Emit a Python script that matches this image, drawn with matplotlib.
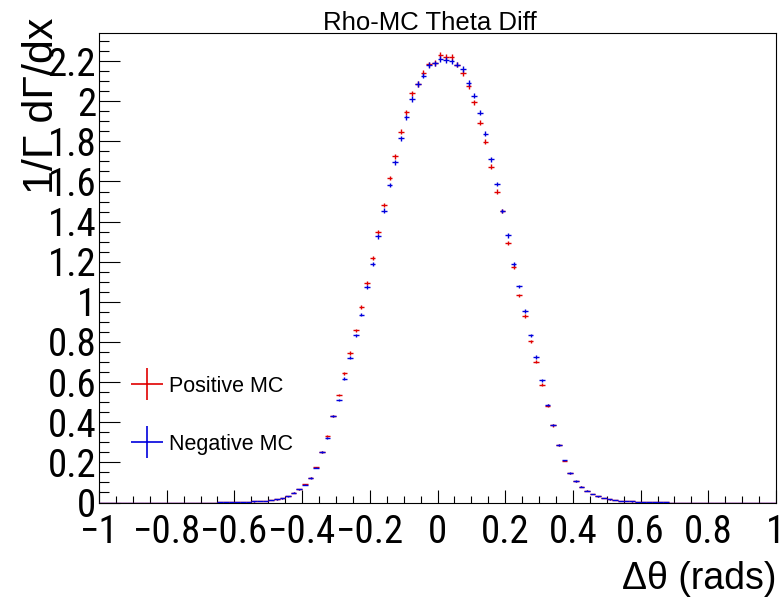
import numpy as np
import matplotlib
matplotlib.use("Agg")
import matplotlib.pyplot as plt
from matplotlib import font_manager as fm
from matplotlib.lines import Line2D
from matplotlib.textpath import TextPath
from matplotlib.ticker import MultipleLocator, FuncFormatter, FixedLocator

# ---------------- data ----------------
x_min, x_max, n_bins = -1.0, 1.0, 120

pos_mc = [0.0] * 21 + [
    0.001, 0.001, 0.002, 0.002, 0.003,                      # 21-25
    0.004, 0.005, 0.006, 0.009, 0.012,                      # 26-30
    0.016, 0.021, 0.032, 0.049, 0.066,                      # 31-35
    0.090, 0.123, 0.175, 0.253, 0.332,                      # 36-40
    0.432, 0.535, 0.643, 0.745, 0.858,                      # 41-45
    0.974, 1.094, 1.220, 1.347, 1.482,                      # 46-50
    1.618, 1.725, 1.848, 1.944, 2.039,                      # 51-55
    2.086, 2.143, 2.184, 2.190, 2.231,                      # 56-60
    2.221, 2.221, 2.182, 2.140, 2.074,                      # 61-65
    1.994, 1.893, 1.799, 1.674, 1.550,                      # 66-70
    1.452, 1.293, 1.173, 1.032, 0.929,                      # 71-75
    0.803, 0.701, 0.588, 0.483, 0.384,                      # 76-80
    0.287, 0.209, 0.146, 0.106, 0.078,                      # 81-85
    0.058, 0.042, 0.031, 0.022, 0.016,                      # 86-90
    0.011, 0.008, 0.006, 0.005, 0.004,                      # 91-95
    0.003, 0.002, 0.002, 0.001, 0.001,                      # 96-100
] + [0.0] * 19

neg_mc = [0.0] * 21 + [
    0.001, 0.001, 0.002, 0.002, 0.003,
    0.004, 0.005, 0.006, 0.009, 0.012,
    0.016, 0.021, 0.031, 0.048, 0.065,
    0.089, 0.122, 0.174, 0.252, 0.322,
    0.431, 0.510, 0.618, 0.722, 0.833,
    0.936, 1.074, 1.190, 1.326, 1.455,
    1.583, 1.696, 1.815, 1.920, 2.011,
    2.086, 2.127, 2.180, 2.188, 2.210,
    2.205, 2.198, 2.182, 2.160, 2.091,
    2.027, 1.943, 1.837, 1.710, 1.588,
    1.452, 1.331, 1.187, 1.077, 0.954,
    0.833, 0.725, 0.609, 0.487, 0.386,
    0.288, 0.210, 0.147, 0.107, 0.079,
    0.059, 0.042, 0.031, 0.022, 0.016,
    0.011, 0.008, 0.006, 0.005, 0.004,
    0.003, 0.002, 0.002, 0.001, 0.001,
] + [0.0] * 19

series_labels = ["Positive MC", "Negative MC"]
series_colors = ["#e00000", "#0000dd"]
title_text = "Rho-MC Theta Diff"
x_label = "Δθ (rads)"
y_label = "1/Γ dΓ/dx"
x_ticks = [-1, -0.8, -0.6, -0.4, -0.2, 0, 0.2, 0.4, 0.6, 0.8, 1]
y_ticks = [0, 0.2, 0.4, 0.6, 0.8, 1, 1.2, 1.4, 1.6, 1.8, 2, 2.2]

plt.rcParams["font.family"] = ["Liberation Sans", "DejaVu Sans"]


# ------------- pick a narrow sans face for the tick labels if one exists -------------
def find_narrow_font():
    prefs = ["Liberation Sans Narrow", "Arial Narrow", "Roboto Condensed",
             "Open Sans Condensed", "Noto Sans Condensed"]
    entries = fm.fontManager.ttflist

    def regular(e):
        return e.style == "normal" and str(e.weight) in ("400", "normal", "regular")

    for name in prefs:
        for e in entries:
            if e.name == name and regular(e):
                return e.fname
    for e in entries:
        fn = e.fname.lower()
        if not regular(e):
            continue
        if "mono" in fn or "serif" in fn and "sans" not in fn or "bold" in fn or "italic" in fn \
                or "oblique" in fn or "cjk" in fn:
            continue
        if e.stretch in ("condensed", "semi-condensed") or "condensed" in fn or "narrow" in fn:
            return e.fname
    return None


narrow_path = find_narrow_font()
if narrow_path:
    tick_prop = fm.FontProperties(fname=narrow_path)
else:
    tick_prop = fm.FontProperties(family="Liberation Sans")

# size the tick font so that "0.2" is ~45 px wide and digits at most ~34 px tall
tp_w = TextPath((0, 0), "0.2", size=100, prop=tick_prop).get_extents().width
tp_h = TextPath((0, 0), "0", size=100, prop=tick_prop).get_extents().height
size_px = min(45.0 / tp_w * 100, 34.0 / tp_h * 100)
tick_size = size_px * 0.72

W, H = 782, 603
fig = plt.figure(figsize=(W / 100, H / 100), dpi=100)
ax_left, ax_right, ax_top, ax_bottom = 99, 776, 33, 502.5
ax = fig.add_axes([ax_left / W, 1 - ax_bottom / H,
                   (ax_right - ax_left) / W, (ax_bottom - ax_top) / H])

edges = np.linspace(x_min, x_max, n_bins + 1)
centers = 0.5 * (edges[:-1] + edges[1:])
half_w = 0.5 * (edges[1] - edges[0])

for vals, col in zip([pos_mc, neg_mc], series_colors):
    v = np.asarray(vals)
    ax.errorbar(centers, v, xerr=half_w, yerr=0.009 * np.sqrt(v),
                fmt="none", ecolor=col, elinewidth=1.0, capsize=0)

ax.set_xlim(x_min, x_max)
ax.set_ylim(0, 2.34)

fmt = FuncFormatter(lambda val, pos: ("%g" % round(val, 6)).replace("-", "\u2212"))
ax.xaxis.set_major_locator(FixedLocator(x_ticks))
ax.yaxis.set_major_locator(FixedLocator(y_ticks))
ax.xaxis.set_major_formatter(fmt)
ax.yaxis.set_major_formatter(fmt)
ax.xaxis.set_minor_locator(MultipleLocator(0.05))
ax.yaxis.set_minor_locator(MultipleLocator(0.05))

ax.tick_params(which="both", direction="in", top=False, right=False,
               width=0.8, color="black")
ax.tick_params(axis="x", which="major", length=9.5, pad=8)
ax.tick_params(axis="x", which="minor", length=5)
ax.tick_params(axis="y", which="major", length=15, pad=2)
ax.tick_params(axis="y", which="minor", length=7.5)
for lab in ax.get_xticklabels() + ax.get_yticklabels():
    lab.set_fontproperties(tick_prop)
    lab.set_fontsize(tick_size)

for sp in ax.spines.values():
    sp.set_linewidth(0.8)
    sp.set_zorder(0.5)

ax.set_xlabel(x_label, fontsize=27, ha="right", va="center")
ax.xaxis.set_label_coords(1.0, (ax_bottom - 579) / (ax_bottom - ax_top))
ax.set_ylabel(y_label, fontsize=31, ha="right", va="center", rotation=90)
ax.yaxis.set_label_coords((42 - ax_left) / (ax_right - ax_left),
                          (ax_bottom - 18) / (ax_bottom - ax_top))

fig.text(430 / W, 1 - 23 / H, title_text, ha="center", va="center", fontsize=18.5)

handles = [Line2D([], [], color=c, marker="+", markersize=23,
                  markeredgewidth=1.2, linestyle="none") for c in series_colors]
ax.legend(handles, series_labels, loc="upper left",
          bbox_to_anchor=(132 / W, 1 - 376 / H), bbox_transform=fig.transFigure,
          frameon=False, fontsize=15.5, handlelength=1.4, handletextpad=0.3,
          labelspacing=1.72, borderpad=0, borderaxespad=0)

fig.savefig("out.png", dpi=100)
